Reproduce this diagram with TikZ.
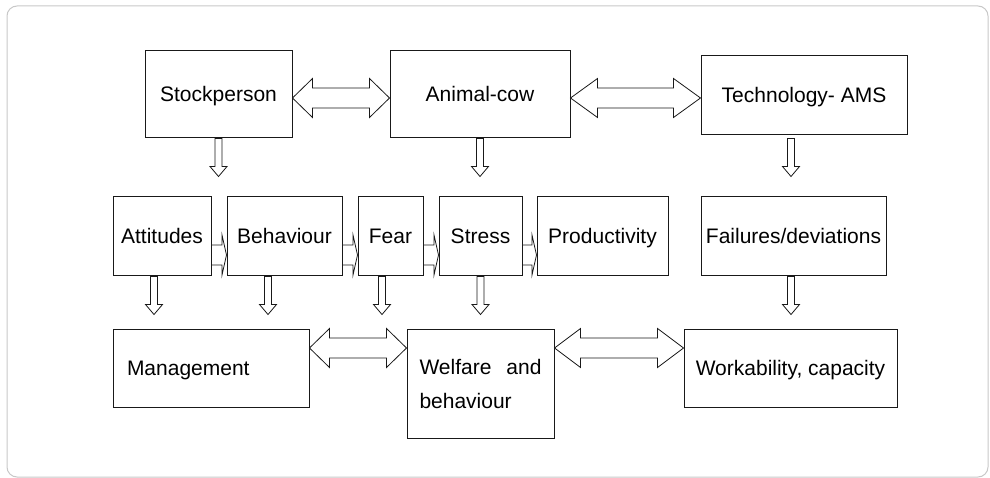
\documentclass[tikz,border=0pt]{standalone}
\usepackage{fontspec}
\setmainfont{Liberation Sans}
\usetikzlibrary{positioning,calc}
\definecolor{FrameGray}{RGB}{200,200,200}
\definecolor{LineDark}{RGB}{25,25,25}

\begin{document}
\begin{tikzpicture}[
    x=1pt, y=-1pt,
    box/.style={rectangle, draw=LineDark, line width=1pt, fill=white, inner sep=0pt,
        font=\fontsize{21}{25}\selectfont, text=black, text height=17pt, text depth=2pt},
    fatdown/.style={draw=LineDark, line width=0.8pt, fill=white, to path={
        let \p1=(\tikztostart), \p2=(\tikztotarget) in
        (\x1-3.5pt,\y1) -- (\x1-3.5pt,\y2+10pt) -- (\x1-8.5pt,\y2+10pt) -- (\x1,\y2)
        -- (\x1+8.5pt,\y2+10pt) -- (\x1+3.5pt,\y2+10pt) -- (\x1+3.5pt,\y1) -- cycle}},
    fatright/.style={draw=LineDark, line width=0.8pt, fill=white, to path={
        let \p1=(\tikztostart), \p2=(\tikztotarget) in
        (\x1,\y1+10pt) -- (\x2-4.5pt,\y1+10pt) -- (\x2-4.5pt,\y1+20pt) -- (\x2,\y1)
        -- (\x2-4.5pt,\y1-20pt) -- (\x2-4.5pt,\y1-10pt) -- (\x1,\y1-10pt) -- cycle}},
    fatboth/.style={draw=LineDark, line width=0.8pt, fill=white, to path={
        let \p1=(\tikztostart), \p2=(\tikztotarget) in
        (\x1,\y1) -- (\x1+#1,\y1+19.5pt) -- (\x1+#1,\y1+10pt) -- (\x2-#1,\y1+10pt)
        -- (\x2-#1,\y1+19.5pt) -- (\x2,\y1) -- (\x2-#1,\y1-19.5pt) -- (\x2-#1,\y1-10pt)
        -- (\x1+#1,\y1-10pt) -- (\x1+#1,\y1-19.5pt) -- cycle}},
]
\useasboundingbox (0,0) rectangle (990,478);
\draw[FrameGray, line width=1pt, rounded corners=10pt] (7,6) rectangle (988,477);

% top row
\node[box, minimum width=147pt, minimum height=87pt] (sp) at (218.5,94.5) {Stockperson};
\node[box, minimum width=180pt, minimum height=87pt] (cow) at (480,94.5) {Animal-cow};
\node[box, minimum width=206pt, minimum height=79pt] (tech) at (804,95.5) {Technology- AMS};

% middle row
\node[box, minimum width=98pt, minimum height=79pt] (att) at (162,236.5) {Attitudes};
\node[box, minimum width=115pt, minimum height=79pt] (beh) at (284.5,236.5) {Behaviour};
\node[box, minimum width=65pt, minimum height=79pt] (fear) at (390.5,236.5) {Fear};
\node[box, minimum width=83pt, minimum height=79pt] (stress) at (480.5,236.5) {Stress};
\node[box, minimum width=131pt, minimum height=79pt] (prod) at (602.5,236.5) {Productivity};
\node[box, minimum width=185pt, minimum height=79pt] (fail) at (793.5,236.5) {Failures/deviations};

% bottom row
\node[box, minimum height=78pt, text width=168pt, inner xsep=14pt, align=left] (mgt) at (211,368) {Management};
\node[box, minimum height=109pt, text width=122pt, inner xsep=12.5pt, align=left,
    text height=, text depth=, font=\fontsize{21}{34}\selectfont] (wel) at (480.5,383.5) {Welfare\hfill and\\behaviour};
\node[box, minimum width=213pt, minimum height=78pt] (work) at (790.5,368) {Workability, capacity};

% links
\draw[fatboth=20pt] ([yshift=-3.5pt]sp.east) to (cow.west);
\draw[fatboth=27pt] ([yshift=-3.5pt]cow.east) to (tech.west);
\draw[fatdown] (sp.south) to ([yshift=20pt]att.north);
\draw[fatdown] (cow.south) to ([yshift=20pt]stress.north);
\draw[fatdown] ([xshift=-13pt, yshift=-3pt]tech.south) to ([yshift=20pt]fail.north);

\draw[fatright] ([yshift=-18.5pt]att.east) to (beh.west);
\draw[fatright] ([yshift=-18.5pt]beh.east) to (fear.west);
\draw[fatright] ([yshift=-18.5pt]fear.east) to (stress.west);
\draw[fatright] ([yshift=-18.5pt]stress.east) to (prod.west);

\draw[fatdown] ([xshift=-8pt]att.south) to ([yshift=14pt]mgt.north);
\draw[fatdown] ([xshift=-16.5pt]beh.south) to ([yshift=14pt]mgt.north);
\draw[fatdown] ([xshift=-8.5pt]fear.south) to ([yshift=14pt]wel.north);
\draw[fatdown] (stress.south) to ([yshift=14pt]wel.north);
\draw[fatdown] ([xshift=-2.5pt]fail.south) to ([yshift=14pt]work.north);

\draw[fatboth=20pt] ([yshift=20pt]mgt.east) to (wel.west);
\draw[fatboth=26pt] ([yshift=35.5pt]wel.east) to (work.west);
\end{tikzpicture}
\end{document}
